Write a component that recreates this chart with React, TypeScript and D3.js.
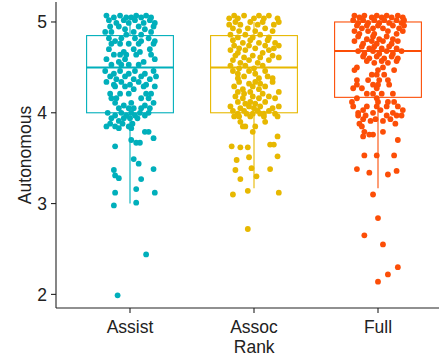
import * as d3 from 'd3'

// rank groups and colours
const ranks = ['Assist', 'Assoc', 'Full']
const colors = ['#00AFBB', '#E7B800', '#FC4E07']

// box stats: [lower whisker, Q1, median, Q3, upper whisker]
const assistBox = [3.0, 4.0, 4.5, 4.85, 5.0]
const assocBox = [3.17, 4.0, 4.5, 4.85, 5.0]
const fullBox = [3.17, 4.17, 4.68, 5.0, 5.0]

// jittered points: [value, [horizontal jitter in category units]]
const assistPoints: [number, number[]][] = [
  [5.07, [-0.19, -0.08, 0.05, 0.13]],
  [5.05, [-0.13, -0.03, 0.01, 0.09, 0.17]],
  [5.02, [-0.17, -0.05, 0.04, 0.16]],
  [4.99, [-0.11, -0.01, 0.11, 0.2]],
  [4.95, [-0.16, -0.09, 0.07, 0.19]],
  [4.92, [-0.04, 0.12]],
  [4.89, [-0.2, -0.15, 0.03, 0.17]],
  [4.86, [-0.03, 0.09]],
  [4.82, [-0.17, -0.07, 0.04, 0.15]],
  [4.79, [-0.12, 0.09, 0.2]],
  [4.76, [-0.15, -0.08, -0.01, 0.07, 0.19]],
  [4.7, [-0.17, 0.03, 0.16]],
  [4.67, [-0.05, 0.08]],
  [4.64, [-0.13, -0.08, -0.03, 0.05, 0.17]],
  [4.59, [-0.19, -0.04, 0.2]],
  [4.56, [-0.09, 0.11]],
  [4.53, [-0.15, -0.07, -0.01, 0.07]],
  [4.46, [-0.2, -0.08, 0.04, 0.19]],
  [4.43, [-0.13, -0.01, 0.12]],
  [4.4, [-0.16, -0.04, 0.09, 0.21]],
  [4.37, [-0.11, 0.03, 0.16]],
  [4.34, [-0.19, -0.07, 0.07]],
  [4.31, [-0.13, 0.0, 0.13]],
  [4.29, [-0.12, -0.04, 0.11, 0.2]],
  [4.26, [0.03]],
  [4.21, [-0.16, -0.08, -0.01, 0.13, 0.17]],
  [4.16, [-0.15, -0.11, 0.09, 0.15]],
  [4.11, [-0.12, 0.01, 0.19]],
  [4.08, [-0.05, 0.12]],
  [4.05, [-0.09, -0.01, 0.03, 0.09, 0.16]],
  [4.0, [-0.18, -0.07, 0.01, 0.08, 0.15]],
  [3.97, [-0.12, -0.03, 0.04, 0.12]],
  [3.94, [-0.15, -0.05, 0.0, 0.06]],
  [3.91, [-0.09]],
  [3.88, [-0.16, -0.06, 0.02]],
  [3.85, [-0.19, -0.12, -0.01]],
  [3.83, [-0.09, 0.01]],
  [3.79, [0.12, 0.15]],
  [3.72, [0.19]],
  [3.7, [0.01]],
  [3.67, [0.05, 0.08]],
  [3.63, [-0.12]],
  [3.49, [0.03]],
  [3.44, [0.07]],
  [3.38, [0.19]],
  [3.37, [-0.13]],
  [3.31, [-0.12]],
  [3.28, [-0.09]],
  [3.27, [0.09]],
  [3.16, [0.05]],
  [3.12, [-0.12, 0.2]],
  [3.01, [0.05]],
  [2.98, [-0.13]],
  [2.44, [0.13]],
  [1.99, [-0.1]],
]

const assocPoints: [number, number[]][] = [
  [5.07, [-0.16, -0.08, 0.04, 0.12]],
  [5.04, [-0.2, -0.13, 0.0, 0.08, 0.19]],
  [5.0, [-0.15, -0.03, 0.07, 0.2]],
  [4.97, [-0.2, -0.11, 0.03, 0.16]],
  [4.93, [-0.17, -0.05, 0.09]],
  [4.9, [-0.12, 0.01, 0.15]],
  [4.86, [-0.19, -0.07, 0.05]],
  [4.83, [-0.13, -0.01, 0.12]],
  [4.8, [-0.17, -0.03, 0.11]],
  [4.77, [-0.09, 0.04, 0.17]],
  [4.74, [-0.16, -0.04, 0.09, 0.2]],
  [4.71, [-0.12, 0.01, 0.16]],
  [4.69, [-0.19, -0.07, 0.12]],
  [4.66, [-0.13, 0.07]],
  [4.63, [-0.15, -0.01, 0.15]],
  [4.61, [-0.08, 0.05, 0.2]],
  [4.58, [-0.17, -0.04, 0.12]],
  [4.55, [-0.11, 0.03]],
  [4.52, [-0.19, -0.07, 0.07]],
  [4.49, [-0.12, 0.0]],
  [4.46, [-0.17, -0.04, 0.09]],
  [4.43, [-0.13, 0.01]],
  [4.4, [-0.08, 0.11]],
  [4.38, [-0.13, 0.04, 0.15]],
  [4.34, [-0.12, 0.01, 0.15]],
  [4.32, [-0.04, 0.05]],
  [4.29, [-0.16, -0.01, 0.09]],
  [4.26, [-0.09, 0.04]],
  [4.23, [-0.13, -0.03, 0.2]],
  [4.21, [-0.08, 0.07]],
  [4.18, [-0.15, -0.01, 0.12]],
  [4.16, [-0.09, 0.04, 0.17]],
  [4.12, [-0.13, -0.03, 0.09]],
  [4.1, [-0.07, 0.01]],
  [4.07, [-0.19, -0.04, 0.05, 0.2]],
  [4.05, [-0.11, 0.0, 0.15]],
  [4.02, [-0.17, -0.08, 0.03, 0.12]],
  [3.99, [-0.13, -0.06, -0.01, 0.05, 0.08, 0.17]],
  [3.96, [-0.16, -0.12, -0.03, 0.08, 0.19]],
  [3.9, [-0.11, 0.09]],
  [3.85, [-0.09, -0.07, 0.01]],
  [3.79, [-0.01]],
  [3.74, [0.19]],
  [3.65, [0.13, 0.16]],
  [3.63, [-0.18]],
  [3.62, [-0.11, -0.05]],
  [3.52, [0.19]],
  [3.51, [-0.04]],
  [3.48, [-0.14]],
  [3.39, [-0.02]],
  [3.38, [0.13]],
  [3.37, [-0.15]],
  [3.3, [0.02]],
  [3.27, [-0.11]],
  [3.14, [-0.05]],
  [3.12, [0.2]],
  [3.1, [-0.17]],
  [2.72, [-0.05]],
]

const fullPoints: [number, number[]][] = [
  [5.07, [-0.19, -0.11, -0.01, 0.07, 0.16]],
  [5.05, [-0.15, -0.05, 0.03, 0.11, 0.2]],
  [5.02, [-0.2, -0.12, -0.03, 0.05, 0.15, 0.21]],
  [4.99, [-0.16, -0.08, 0.01, 0.09, 0.19]],
  [4.96, [-0.17, -0.09, 0.0, 0.12, 0.21]],
  [4.93, [-0.13, -0.04, 0.04, 0.17]],
  [4.9, [-0.19, -0.08, 0.08, 0.2]],
  [4.87, [-0.15, -0.03, 0.15]],
  [4.84, [-0.16, -0.04, 0.07]],
  [4.81, [-0.09, 0.01, 0.12]],
  [4.79, [-0.19, -0.05, 0.04, 0.16]],
  [4.76, [-0.12, -0.01, 0.11]],
  [4.73, [-0.13, -0.03, 0.09]],
  [4.71, [-0.07, 0.03, 0.15]],
  [4.68, [-0.16, -0.04, 0.07, 0.19]],
  [4.65, [-0.11, 0.01, 0.12]],
  [4.62, [-0.12, -0.01, 0.11]],
  [4.6, [-0.07, 0.05, 0.16]],
  [4.57, [-0.09, 0.03, 0.15]],
  [4.55, [-0.03, 0.08]],
  [4.5, [-0.17, 0.04]],
  [4.47, [-0.19, 0.0, 0.13]],
  [4.42, [-0.05, -0.01, 0.05]],
  [4.36, [-0.17, -0.08, 0.01, 0.08]],
  [4.31, [-0.17, -0.04, 0.0, 0.09]],
  [4.27, [-0.2, -0.13, -0.01]],
  [4.21, [-0.09, -0.04, 0.03, 0.12]],
  [4.16, [-0.17, -0.01]],
  [4.12, [-0.21, 0.0, 0.08, 0.13]],
  [4.07, [-0.2, -0.09, -0.01, 0.07, 0.16]],
  [4.03, [-0.12, 0.02, 0.2]],
  [4.0, [-0.16, -0.04, 0.12]],
  [3.97, [-0.16, -0.1, 0.07, 0.15, 0.19]],
  [3.93, [-0.12, -0.02, 0.1]],
  [3.91, [-0.06, 0.04]],
  [3.88, [-0.15, 0.14]],
  [3.85, [-0.13]],
  [3.79, [-0.11, 0.04]],
  [3.76, [-0.07, -0.04]],
  [3.74, [-0.12]],
  [3.7, [0.16]],
  [3.53, [-0.11, -0.01, 0.13]],
  [3.38, [-0.17]],
  [3.36, [0.15]],
  [3.34, [-0.07]],
  [3.32, [0.08]],
  [3.1, [-0.04]],
  [2.84, [0.0]],
  [2.65, [-0.11]],
  [2.55, [0.04]],
  [2.3, [0.16]],
  [2.22, [0.08]],
  [2.14, [0.0]],
]

const yTicks = [2, 3, 4, 5]

const boxes = [assistBox, assocBox, fullBox]
const pointSets = [assistPoints, assocPoints, fullPoints]

export default function App() {
  const width = 439
  const height = 356
  const left = 56
  const top = 2
  const bottom = 308
  const font = '"Liberation Sans", Arial, sans-serif'

  // discrete axis: ggplot-style 0.6 expansion on each side
  const x = d3.scalePoint<string>().domain(ranks).range([130, 378])
  const step = x.step()
  const right = (x('Full') ?? 0) + step * 0.6

  const y = d3.scaleLinear().domain([1.85, 5.22]).range([bottom, top])

  const boxW = step * 0.7

  return (
    <svg
      width={width}
      height={height}
      style={{ position: 'absolute', left: 0, top: 0, background: '#fff' }}
      fontFamily={font}
    >
      {ranks.map((r, i) => {
        const cx = x(r) ?? 0
        const [lo, q1, med, q3, hi] = boxes[i]
        const col = colors[i]
        const pts = pointSets[i].flatMap(([v, js]) => js.map(j => ({ v, j })))
        return (
          <g key={r}>
            <line x1={cx} x2={cx} y1={y(lo)} y2={y(q1)} stroke={col} strokeWidth={1.1} />
            <line x1={cx} x2={cx} y1={y(q3)} y2={y(hi)} stroke={col} strokeWidth={1.1} />
            <rect
              x={cx - boxW / 2}
              y={y(q3)}
              width={boxW}
              height={y(q1) - y(q3)}
              fill="#fff"
              stroke={col}
              strokeWidth={1.1}
            />
            <line x1={cx - boxW / 2} x2={cx + boxW / 2} y1={y(med)} y2={y(med)} stroke={col} strokeWidth={2} />
            {pts.map((p, k) => (
              <circle key={k} cx={cx + p.j * step} cy={y(p.v)} r={2.9} fill={col} />
            ))}
          </g>
        )
      })}

      {/* y axis */}
      <line x1={left} x2={left} y1={top} y2={bottom} stroke="#222" strokeWidth={1.1} />
      {yTicks.map(t => (
        <g key={t}>
          <line x1={left - 5} x2={left} y1={y(t)} y2={y(t)} stroke="#222" strokeWidth={1.1} />
          <text x={left - 9} y={y(t)} dy="0.36em" textAnchor="end" fontSize={17.5} fill="#222">
            {t}
          </text>
        </g>
      ))}

      {/* x axis */}
      <line x1={left} x2={right} y1={bottom} y2={bottom} stroke="#222" strokeWidth={1.1} />
      {ranks.map(r => (
        <g key={r}>
          <line x1={x(r)} x2={x(r)} y1={bottom} y2={bottom + 5} stroke="#222" strokeWidth={1.1} />
          <text x={x(r)} y={333} textAnchor="middle" fontSize={17.5} fill="#222">
            {r}
          </text>
        </g>
      ))}

      <text x={(left + right) / 2} y={353} textAnchor="middle" fontSize={17.5} fill="#222">
        Rank
      </text>
      <text
        transform={`translate(31,${(top + bottom) / 2}) rotate(-90)`}
        textAnchor="middle"
        fontSize={17.5}
        fill="#222"
      >
        Autonomous
      </text>
    </svg>
  )
}
